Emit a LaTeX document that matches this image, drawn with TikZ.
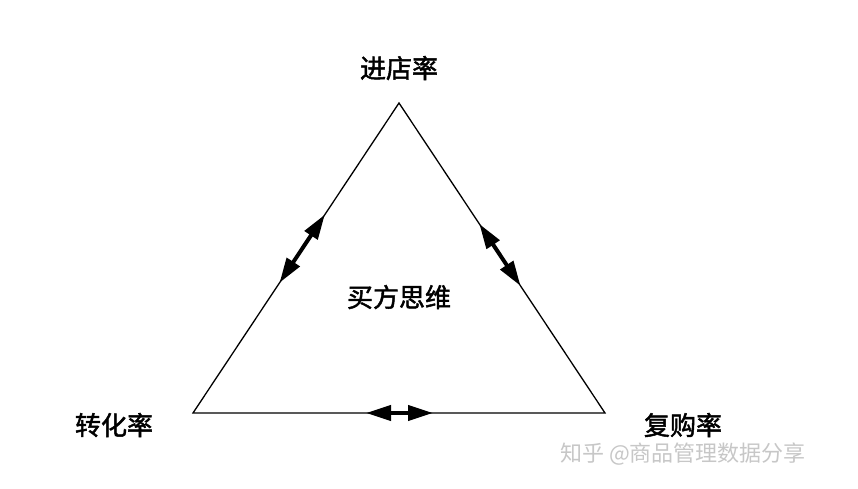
\documentclass[tikz,border=0pt]{standalone}
\usepackage{fontspec}
\setmainfont{Noto Sans CJK SC}
\newfontfamily\cjkmed{Noto Sans CJK SC}[FakeBold=1.8]
\usetikzlibrary{arrows.meta,calc}
\begin{document}
\begin{tikzpicture}[x=1pt,y=-1pt,
  side/.style={line width=1.3pt,line join=miter},
  dbl/.style={line width=4pt,{Triangle[length=25pt,width=15pt]}-{Triangle[length=25pt,width=15pt]}},
  lbl/.style={font=\cjkmed\fontsize{26}{30}\selectfont,inner sep=0pt},
  wm/.style={font=\fontsize{22}{26}\selectfont,inner sep=0pt,text=black!22}]
\useasboundingbox (0,0) rectangle (858,489);
\fill[white] (0,0) rectangle (858,489);
\coordinate (T) at (399,103);
\coordinate (L) at (193,413);
\coordinate (R) at (605,413);
\draw[side] (T) -- (L) -- (R) -- cycle;
\coordinate (l1) at ($(T)!0.36!(L)$);
\coordinate (l2) at ($(T)!0.58!(L)$);
\coordinate (r1) at ($(T)!0.39!(R)$);
\coordinate (r2) at ($(T)!0.59!(R)$);
\coordinate (b1) at (366,413);
\coordinate (b2) at (433,413);
\draw[dbl] (l1) -- (l2);
\draw[dbl] (r1) -- (r2);
\draw[dbl] (b1) -- (b2);
\node[lbl] (top) at (399,68) {进店率};
\node[lbl] (left) at (114,425) {转化率};
\node[lbl] (right) at (683,425) {复购率};
\node[lbl] (mid) at (399,297) {买方思维};
\node[wm,anchor=west] (wmk) at (560,454) {知乎 @商品管理数据分享};
\end{tikzpicture}
\end{document}
